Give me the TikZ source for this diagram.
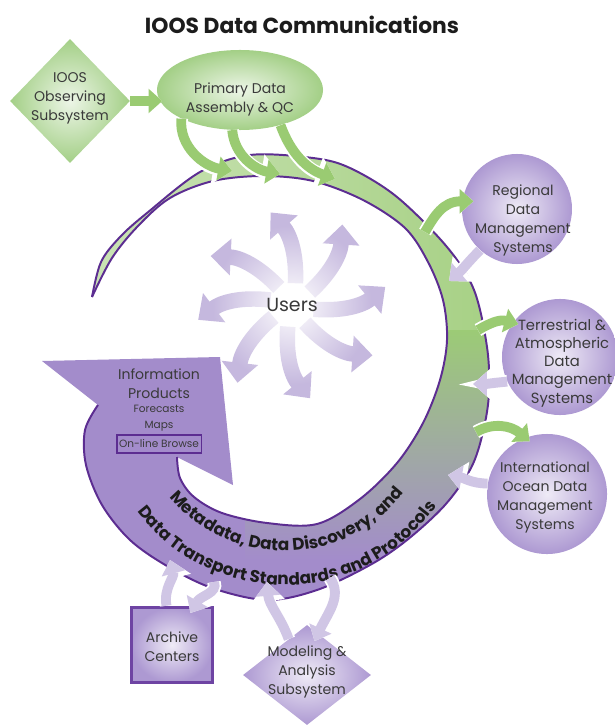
\documentclass[tikz,border=0pt]{standalone}
\usepackage{fontspec}
\setmainfont{Poppins}
\usetikzlibrary{arrows.meta,calc,shapes.geometric,decorations.text,fadings}

\definecolor{ringpurple}{HTML}{A38CCB}
\definecolor{edgepurple}{HTML}{5C2D91}
\definecolor{ringgreen}{HTML}{9CCB76}
\definecolor{tailgreen}{HTML}{D2E7C0}
\definecolor{ringgrey}{HTML}{A9AA9E}
\definecolor{leafgreen}{HTML}{A3CF86}
\definecolor{arrowgreen}{HTML}{9ACB72}
\definecolor{lavlight}{HTML}{D0C6E5}
\definecolor{lavdeep}{HTML}{AD99D2}
\definecolor{userlav}{HTML}{C5B8DE}
\definecolor{boxpurple}{HTML}{6E44A3}
\definecolor{textgrey}{HTML}{3A3A3A}
\definecolor{titleink}{HTML}{1C1C1C}

\tikzfading[name=usersglow, inner color=transparent!0, outer color=transparent!100]
\newcommand{\bandfont}{\bfseries\fontsize{12}{14}\selectfont\color{titleink}}

\tikzset{
  nodetext/.style={font=\fontsize{10}{13.5}\selectfont, text=textgrey, align=center, inner sep=0pt},
  smalltext/.style={font=\fontsize{7.5}{11}\selectfont, text=textgrey, align=center, inner sep=0pt},
  greenbox/.style={inner color=leafgreen!20!white, outer color=leafgreen, inner sep=0pt},
  lavbox/.style={inner color=lavdeep!20!white, outer color=lavdeep, inner sep=0pt},
  ringline/.style={draw=edgepurple, line width=1.4pt},
  flowarrow/.style={line width=7pt, -{Triangle[width=0pt 2.4, length=0pt 1.4]},
    preaction={draw=white, line width=9.5pt}},
  outarrow/.style={flowarrow, draw=arrowgreen},
  backarrow/.style={flowarrow, draw=lavlight},
  userarrow/.style={draw=userlav, line width=11pt, -{Triangle[width=0pt 2.3, length=0pt 1.3]}}
}

\begin{document}
\begin{tikzpicture}[x=0.025cm, y=0.025cm]
\useasboundingbox (0,0) rectangle (615,-727);

\node[font=\bfseries\fontsize{15.5}{18}\selectfont, text=titleink] (title) at (302,-25) {IOOS Data Communications};

%%% ring
\path[save path=\ringpath] plot[smooth, tension=.55] coordinates {(92,-297) (101,-262) (120,-237) (147,-213) (200,-172) (250,-155) (313,-158) (350,-168) (397,-197) (447,-247) (474,-290) (487,-347) (489,-393) (483,-432) (471,-468) (445,-505) (407,-540) (370,-565) (317,-590) (267,-600) (212,-588) (167,-566) (130,-540) (102,-505) (86,-465) (85,-430) (98,-405)}
  -- (42,-361) -- (220,-357) -- (233,-485) -- (177,-457)
  -- plot[smooth, tension=.55] coordinates {(177,-457) (180,-478) (194,-497) (222,-513) (267,-523) (317,-524) (360,-499) (397,-463) (423,-423) (440,-380) (447,-340) (443,-300) (428,-262) (405,-228) (363,-200) (313,-181) (263,-176) (213,-181) (170,-198) (138,-226) (112,-258) (92,-297)} -- cycle;
\fill[ringpurple, use path=\ringpath];
\begin{scope}
  \clip[use path=\ringpath];
  \clip (0,0) -- (615,0) -- (615,-727) -- (245,-727) -- (245,-340) -- (0,-340) -- cycle;
  \shade[left color=tailgreen, right color=ringgreen] (0,0) rectangle (615,-340);
  \shade[top color=ringgreen, middle color=ringgrey, bottom color=ringpurple] (245,-330) rectangle (615,-560);
\end{scope}
\draw[ringline] plot[smooth, tension=.55] coordinates {(92,-297) (101,-262) (120,-237) (147,-213) (200,-172) (250,-155) (313,-158) (350,-168) (397,-197) (447,-247) (474,-290) (487,-347) (489,-393) (483,-432) (471,-468) (445,-505) (407,-540) (370,-565) (317,-590) (267,-600) (212,-588) (167,-566) (130,-540) (102,-505) (86,-465) (85,-430) (98,-405)};
\draw[ringline] plot[smooth, tension=.55] coordinates {(177,-457) (180,-478) (194,-497) (222,-513) (267,-523) (317,-524) (360,-499) (397,-463) (423,-423) (440,-380) (447,-340) (443,-300) (428,-262) (405,-228) (363,-200) (313,-181) (263,-176) (213,-181) (170,-198) (138,-226) (112,-258) (92,-297)};

\coordinate (hub) at (285,-400);
\path[decorate, decoration={text along path, text align=center,
    text={|\bandfont|Metadata, Data Discovery, and}}]
  ($(hub)+(200:151)$) arc[start angle=200, end angle=342, radius=151];
\path[decorate, decoration={text along path, text align=center,
    text={|\bandfont|Data Transport Standards and Protocols}}]
  ($(hub)+(198:185)$) arc[start angle=198, end angle=344, radius=185];

% information products (arrow head)
\node[nodetext] (infohead) at (159,-384) {Information\\Products};
\node[smalltext] (infolist) at (159,-418) {Forecasts\\Maps};
\node[smalltext, draw=edgepurple, line width=1.3pt, minimum width=2.12cm, minimum height=0.45cm] (browse) at (159,-444) {On-line Browse};

%%% users
\coordinate (userhub) at (292,-305);
\foreach \a in {103,58,11,-32,-79,-125,-171,149}
  \draw[userarrow] ($(userhub)+(\a-22:22)$) to[bend right=22] ($(userhub)+(\a:95)$);
\fill[white, path fading=usersglow] (userhub) circle (80);
\node[font=\fontsize{13.5}{16}\selectfont, text=textgrey] (users) at (userhub) {Users};

%%% boxes
\node[diamond, minimum width=3cm, minimum height=3.1cm, greenbox] (obs) at (70,-101) {};
\node[ellipse, minimum width=4.15cm, minimum height=2cm, greenbox] (prim) at (240,-90) {};
\node[circle, minimum size=2.75cm, lavbox] (reg) at (517,-209) {};
\node[circle, minimum size=2.9cm, lavbox] (ter) at (560,-357) {};
\node[circle, minimum size=3cm, lavbox] (int) at (547,-494) {};
\node[rectangle, minimum width=2.02cm, minimum height=1.88cm, lavbox, draw=boxpurple, line width=2.4pt] (arch) at (172,-645) {};
\node[diamond, minimum width=3.2cm, minimum height=2.5cm, lavbox] (model) at (307,-675) {};

%%% points on the ring
\coordinate (feed1) at (232,-171);
\coordinate (feed2) at (280,-174);
\coordinate (feed3) at (335,-179);
\coordinate (toreg) at (425,-232);
\coordinate (fromreg) at (449,-281);
\coordinate (toter) at (478,-330);
\coordinate (fromter) at (473,-384);
\coordinate (toint) at (476,-432);
\coordinate (fromint) at (448,-475);
\coordinate (toarch) at (214,-582);
\coordinate (fromarch) at (170,-560);
\coordinate (tomodel) at (330,-578);
\coordinate (frommodel) at (267,-582);

%%% arrows
\draw[outarrow, shorten >=-4pt] (obs.east) -- (obs.east -| prim.west);
\draw[outarrow] (prim.206) to[out=-95, in=170] (feed1);
\draw[outarrow] (prim.259) to[out=-85, in=170] (feed2);
\draw[outarrow] (prim.319) to[out=-70, in=160] (feed3);
\draw[outarrow, shorten >=-8pt] (toreg) to[out=60, in=180] (reg.172);
\draw[backarrow] (reg.228) to[out=225, in=40] (fromreg);
\draw[outarrow, shorten >=-4pt] (toter) to[out=30, in=165] (ter.144);
\draw[backarrow] (ter.205) to[out=185, in=0] (fromter);
\draw[outarrow, shorten >=-4pt] (toint) to[out=30, in=140] (int.111);
\draw[backarrow] (int.170) to[out=180, in=-10] (fromint);
\draw[backarrow] (arch.98) to[out=100, in=-75] (fromarch);
\draw[backarrow, shorten >=-6pt] (toarch) to[out=-70, in=60] (arch.60);
\draw[backarrow] (model.117) to[out=110, in=-85] (frommodel);
\draw[backarrow, shorten >=-6pt] (tomodel) to[out=-55, in=65] (model.75);

%%% labels
\node[nodetext] (obslabel) at (70,-98) {IOOS\\Observing\\Subsystem};
\node[nodetext] (primlabel) at (240,-99) {Primary Data\\Assembly \& QC};
\node[nodetext] (reglabel) at (523,-220) {Regional\\Data\\Management\\Systems};
\node[nodetext, font=\fontsize{10.5}{13}\selectfont] (terlabel) at (562,-363) {Terrestrial \&\\Atmospheric\\Data\\Management\\Systems};
\node[nodetext] (intlabel) at (545,-497) {International\\Ocean Data\\Management\\Systems};
\node[nodetext] (archlabel) at (172,-647) {Archive\\Centers};
\node[nodetext] (modellabel) at (307,-672) {Modeling \&\\Analysis\\Subsystem};
\end{tikzpicture}
\end{document}
